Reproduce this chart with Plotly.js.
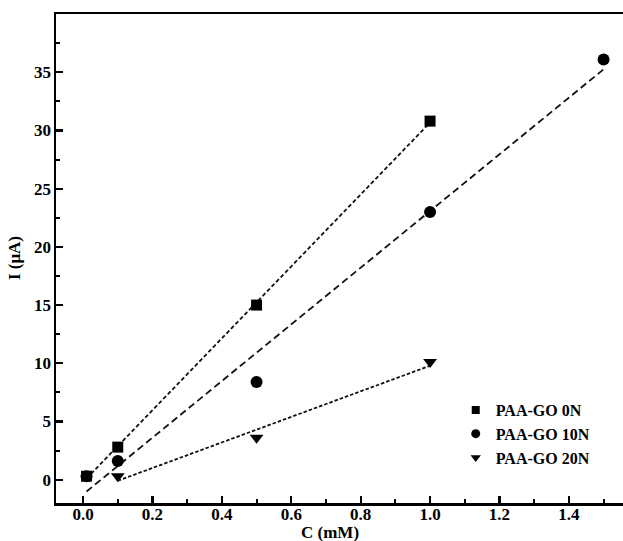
<!DOCTYPE html>
<html><head><meta charset="utf-8">
<script src="https://cdn.plot.ly/plotly-3.0.1.min.js"></script>
<style>body{margin:0;background:#fff}</style>
</head><body><div id="chart" style="width:623px;height:541px"></div>
<script>
const names = ["PAA-GO 0N", "PAA-GO 10N", "PAA-GO 20N"];
const x0N = [0.01, 0.1, 0.5, 1.0];
const y0N = [0.3, 2.8, 15.0, 30.8];
const x10N = [0.01, 0.1, 0.5, 1.0, 1.5];
const y10N = [0.3, 1.6, 8.4, 23.0, 36.1];
const x20N = [0.1, 0.5, 1.0];
const y20N = [0.3, 3.6, 10.1];
const symbols = ["square", "circle", "triangle-down"];
const dashes = ["4px,2.5px", "7px,4px", "3.5px,2px"];
const xTicks = [0, 0.2, 0.4, 0.6, 0.8, 1.0, 1.2, 1.4];
const yTicks = [0, 5, 10, 15, 20, 25, 30, 35];

function fit(xs, ys) {
  const n = xs.length;
  const mx = xs.reduce((a, b) => a + b, 0) / n;
  const my = ys.reduce((a, b) => a + b, 0) / n;
  let sxx = 0, sxy = 0;
  for (let i = 0; i < n; i++) { sxx += (xs[i] - mx) ** 2; sxy += (xs[i] - mx) * (ys[i] - my); }
  const b = sxy / sxx, a = my - b * mx;
  const lo = Math.min(...xs), hi = Math.max(...xs);
  return { x: [lo, hi], y: [a + b * lo, a + b * hi] };
}

const series = [[x0N, y0N], [x10N, y10N], [x20N, y20N]];
const traces = [];
series.forEach((s, i) => {
  const f = fit(s[0], s[1]);
  traces.push({
    x: f.x, y: f.y, mode: "lines", showlegend: false, hoverinfo: "skip",
    line: { color: "#111", width: 1.8, dash: dashes[i] }
  });
});
series.forEach((s, i) => {
  traces.push({
    x: s[0], y: s[1], mode: "markers", name: names[i], showlegend: false,
    marker: { symbol: symbols[i], color: "#000", size: i === 0 ? 11 : 12 }
  });
});
series.forEach((s, i) => {
  traces.push({
    x: [null], y: [null], mode: "markers", name: "<b>" + names[i] + "</b>", showlegend: true,
    marker: { symbol: symbols[i], color: "#000", size: i === 0 ? 8 : 9 }
  });
});

const FAM = "Liberation Serif";
const fnt = (size) => ({ family: FAM, size: size, color: "#000" });
const layout = {
  width: 623, height: 541,
  margin: { l: 56, r: 0, t: 14, b: 38 },
  paper_bgcolor: "#fff", plot_bgcolor: "#fff",
  font: fnt(17),
  showlegend: true,
  legend: {
    x: 0.705, y: 0.225, xanchor: "left", yanchor: "top",
    font: fnt(16),
    bgcolor: "rgba(0,0,0,0)", tracegroupgap: 0
  },
  xaxis: {
    range: [-0.078, 1.556], tickvals: xTicks, ticktext: xTicks.map(v => "<b>" + v.toFixed(1) + "</b>"),
    ticks: "inside", ticklen: 7, tickwidth: 2.2, tickcolor: "#000",
    minor: { dtick: 0.1, tick0: 0, ticks: "inside", ticklen: 4, tickwidth: 2, tickcolor: "#000" },
    showline: true, linewidth: 2.5, linecolor: "#000", mirror: true,
    showgrid: false, zeroline: false, automargin: false,
    tickfont: fnt(17), ticklabelstandoff: -6
  },
  yaxis: {
    range: [-2, 40], tickvals: yTicks, ticktext: yTicks.map(v => "<b>" + v + "</b>"),
    ticks: "inside", ticklen: 7, tickwidth: 2.2, tickcolor: "#000",
    minor: { dtick: 2.5, tick0: 0, ticks: "inside", ticklen: 4, tickwidth: 2, tickcolor: "#000" },
    showline: true, linewidth: 2.5, linecolor: "#000", mirror: false,
    showgrid: false, zeroline: false, automargin: false,
    tickfont: fnt(17), ticklabelstandoff: -1
  },
  annotations: [
    { text: "<b>C (mM)</b>", xref: "paper", yref: "paper", x: 0.483, y: -0.061, xanchor: "center", yanchor: "middle",
      showarrow: false, font: fnt(17) },
    { text: "<b>I (μA)</b>", xref: "paper", yref: "paper", x: -0.073, y: 0.5, xanchor: "center", yanchor: "middle",
      textangle: -90, showarrow: false, font: fnt(17) }
  ]
};
Plotly.newPlot("chart", traces, layout, { displayModeBar: false, staticPlot: true });
</script>
</body></html>
